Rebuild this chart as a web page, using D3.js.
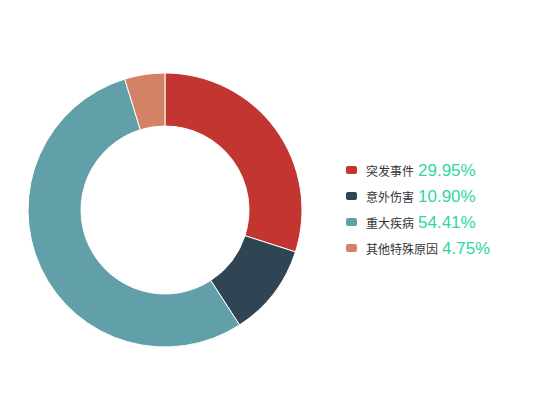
<!DOCTYPE html>
<html><head><meta charset="utf-8">
<script src="https://cdn.jsdelivr.net/npm/d3@7/dist/d3.min.js"></script>
<style>body{margin:0;background:#fff}svg{display:block}</style>
</head><body>
<svg id="c" width="550" height="420"></svg>
<script>
const categories = ["突发事件","意外伤害","重大疾病","其他特殊原因"];
const values = [29.95, 10.90, 54.41, 4.75];
const colors = ["#c23531","#2f4554","#61a0a8","#d48265"];

const svg = d3.select("#c");
const cx = 165, cy = 210, rOuter = 137, rInner = 84;
const data = categories.map((c,i)=>({name:c,value:values[i],color:colors[i]}));
const pie = d3.pie().sort(null).value(d=>d.value);
const arc = d3.arc().innerRadius(rInner).outerRadius(rOuter);
const g = svg.append("g").attr("transform",`translate(${cx},${cy})`);
g.selectAll("path").data(pie(data)).join("path")
  .attr("d",arc).attr("fill",d=>d.data.color)
  .attr("stroke","#fff").attr("stroke-width",1);

const lg = svg.append("g").attr("transform","translate(346,170)");
const row = lg.selectAll("g").data(data).join("g").attr("transform",(d,i)=>`translate(0,${i*26})`);
row.append("rect").attr("x",0).attr("y",-4).attr("width",11).attr("height",8).attr("rx",2).attr("fill",d=>d.color);
const t = row.append("text").attr("x",20).attr("y",0).attr("dy","0.35em")
  .style("font-family","'Noto Sans CJK SC','Noto Sans',sans-serif");
t.append("tspan").attr("font-size",12).attr("fill","#333").text(d=>d.name);
t.append("tspan").attr("font-size",17).attr("fill","#2fd69f").attr("dx",4)
  .style("font-family","'Liberation Sans',Arial,sans-serif")
  .text(d=>d.value.toFixed(2)+"%");
</script>
</body></html>
